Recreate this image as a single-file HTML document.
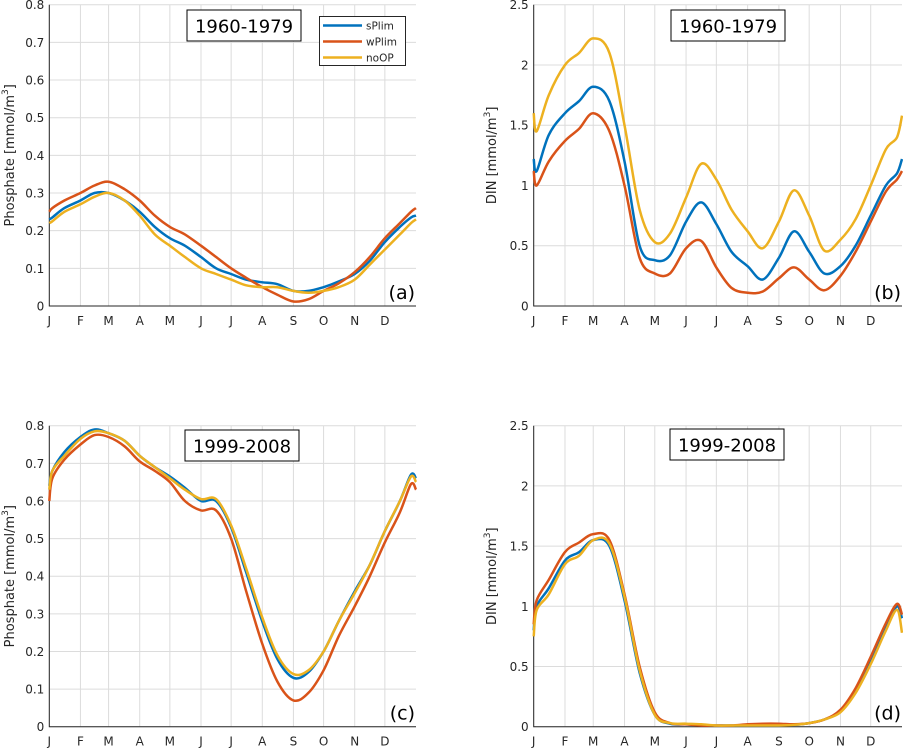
<!DOCTYPE html>
<html><head><meta charset="utf-8"><style>
body{margin:0;background:#fff;}
svg{display:block;font-family:"DejaVu Sans","Liberation Sans",sans-serif;}
</style></head><body>
<svg id="fig" width="903" height="748" viewBox="0 0 903 748" xmlns="http://www.w3.org/2000/svg"></svg>
<script>
const days=[0,3,15,31,45,59,75,90,105,120,135,151,166,181,196,212,227,243,258,273,288,304,319,334,349,360,365];
const monthLabels=["J","F","M","A","M","J","J","A","S","O","N","D"];
const monthDays=[0,31,59,90,120,151,181,212,243,273,304,334];
const seriesNames=["sPlim","wPlim","noOP"];
const aS=[0.23,0.235,0.26,0.28,0.3,0.30,0.28,0.25,0.21,0.18,0.16,0.13,0.10,0.085,0.07,0.063,0.058,0.04,0.04,0.05,0.065,0.085,0.12,0.17,0.21,0.235,0.24];
const aW=[0.25,0.26,0.28,0.30,0.32,0.33,0.31,0.28,0.24,0.21,0.19,0.16,0.13,0.10,0.075,0.05,0.03,0.012,0.018,0.04,0.06,0.09,0.13,0.18,0.22,0.25,0.26];
const aN=[0.22,0.225,0.25,0.27,0.29,0.30,0.28,0.24,0.19,0.16,0.13,0.10,0.085,0.07,0.055,0.05,0.05,0.04,0.035,0.04,0.05,0.07,0.11,0.15,0.19,0.22,0.23];
const bS=[1.22,1.12,1.42,1.6,1.7,1.82,1.7,1.2,0.5,0.38,0.42,0.7,0.86,0.68,0.45,0.33,0.22,0.4,0.62,0.45,0.27,0.33,0.5,0.75,1.0,1.1,1.22];
const bW=[1.12,1.0,1.2,1.37,1.47,1.6,1.45,1.0,0.4,0.27,0.27,0.48,0.54,0.32,0.15,0.11,0.12,0.23,0.32,0.22,0.13,0.25,0.45,0.7,0.95,1.05,1.12];
const bN=[1.6,1.45,1.75,2.0,2.1,2.22,2.1,1.5,0.8,0.53,0.6,0.9,1.18,1.05,0.8,0.62,0.48,0.7,0.96,0.75,0.46,0.55,0.72,1.0,1.3,1.4,1.58];
const cS=[0.64,0.68,0.73,0.77,0.79,0.78,0.76,0.72,0.69,0.665,0.635,0.6,0.6,0.53,0.41,0.28,0.18,0.13,0.145,0.2,0.28,0.36,0.43,0.52,0.6,0.67,0.66];
const cW=[0.6,0.66,0.71,0.75,0.775,0.77,0.745,0.705,0.68,0.65,0.6,0.575,0.575,0.5,0.36,0.22,0.12,0.07,0.09,0.15,0.24,0.32,0.4,0.49,0.57,0.645,0.63];
const cN=[0.63,0.68,0.72,0.765,0.785,0.78,0.76,0.72,0.69,0.66,0.63,0.605,0.605,0.535,0.42,0.29,0.19,0.14,0.15,0.2,0.28,0.355,0.43,0.52,0.6,0.665,0.65];
const dS=[0.8,1.0,1.15,1.38,1.45,1.55,1.5,1.05,0.45,0.1,0.025,0.02,0.015,0.01,0.01,0.01,0.01,0.01,0.015,0.03,0.06,0.13,0.3,0.55,0.83,1.0,0.9];
const dW=[0.85,1.05,1.22,1.45,1.53,1.6,1.55,1.1,0.5,0.12,0.03,0.02,0.01,0.01,0.01,0.02,0.025,0.025,0.02,0.03,0.06,0.14,0.32,0.58,0.86,1.02,0.93];
const dN=[0.75,0.97,1.1,1.35,1.42,1.55,1.52,1.08,0.47,0.1,0.03,0.025,0.02,0.01,0.01,0.01,0.01,0.01,0.015,0.03,0.06,0.12,0.28,0.52,0.8,0.97,0.78];
const phTicks=["0","0.1","0.2","0.3","0.4","0.5","0.6","0.7","0.8"];
const dinTicks=["0","0.5","1","1.5","2","2.5"];
const colors=["#0072BD","#D95319","#EDB120"];
const NS="http://www.w3.org/2000/svg";
const svg=document.getElementById('fig');
function mk(tag,attrs,parent,text){const e=document.createElementNS(NS,tag);for(const k in attrs)e.setAttribute(k,attrs[k]);if(text!==undefined)e.textContent=text;(parent||svg).appendChild(e);return e;}
function smooth(pts){
 let d="M"+pts[0][0].toFixed(1)+","+pts[0][1].toFixed(1);
 for(let i=0;i<pts.length-1;i++){
  const p0=pts[Math.max(i-1,0)],p1=pts[i],p2=pts[i+1],p3=pts[Math.min(i+2,pts.length-1)];
  const c1x=p1[0]+(p2[0]-p0[0])/6,c1y=p1[1]+(p2[1]-p0[1])/6;
  const c2x=p2[0]-(p3[0]-p1[0])/6,c2y=p2[1]-(p3[1]-p1[1])/6;
  d+=`C${c1x.toFixed(1)},${c1y.toFixed(1)} ${c2x.toFixed(1)},${c2y.toFixed(1)} ${p2[0].toFixed(1)},${p2[1].toFixed(1)}`;
 }
 return d;
}
const panels=[
 {id:"a",x0:49.3,x1:416,y0:306,y1:4.7,ymax:0.8,ticks:phTicks,ylabel:"Phosphate",data:[aS,aW,aN],title:"1960-1979",tx:187,ty:10,legend:true,lx:14},
 {id:"b",x0:533.7,x1:902,y0:306,y1:4.7,ymax:2.5,ticks:dinTicks,ylabel:"DIN",data:[bS,bW,bN],title:"1960-1979",tx:671,ty:10,lx:496},
 {id:"c",x0:49.3,x1:416,y0:726.7,y1:425.7,ymax:0.8,ticks:phTicks,ylabel:"Phosphate",data:[cS,cW,cN],title:"1999-2008",tx:185,ty:430,lx:14},
 {id:"d",x0:533.7,x1:902,y0:726.7,y1:425.7,ymax:2.5,ticks:dinTicks,ylabel:"DIN",data:[dS,dW,dN],title:"1999-2008",tx:670,ty:429,lx:496}
];
panels.forEach(p=>{
 const g=mk('g',{});
 
 
 const xs=d=>p.x0+d/365*(p.x1-p.x0);
 const ys=v=>p.y0-v/p.ymax*(p.y0-p.y1);
 p.ticks.forEach(t=>{const y=ys(parseFloat(t));
  const l=mk('line',{x1:p.x0,x2:p.x1,y1:y,y2:y,stroke:"#dcdcdc","stroke-width":1},g);
  
  
  const tx=mk('text',{x:p.x0-5,y:y+4.5,"text-anchor":"end","font-size":12,fill:"#262626"},g,t);
  
  
 });
 monthDays.forEach((d,i)=>{const x=xs(d);
  const l=mk('line',{x1:x,x2:x,y1:p.y0,y2:p.y1,stroke:"#dcdcdc","stroke-width":1},g);
  
  
  const tx=mk('text',{x:x,y:p.y0+19,"text-anchor":"middle","font-size":12,fill:"#262626"},g,monthLabels[i]);
  
  
 });
 const ax=mk('path',{d:`M${p.x0},${p.y1}V${p.y0}H${p.x1}`,fill:"none",stroke:"#262626","stroke-width":1},g);
 
 
 p.data.forEach((arr,si)=>{
  const pts=arr.map((v,i)=>[xs(days[i]),ys(v)]);
  const pl=mk('path',{d:smooth(pts),fill:"none",stroke:colors[si],"stroke-width":2.5,"stroke-linejoin":"round"},g);
  
  
 });
 const yc=(p.y0+p.y1)/2, lx=p.lx;
 const yl=mk('text',{x:lx,y:yc,transform:`rotate(-90 ${lx} ${yc})`,"text-anchor":"middle","font-size":13,fill:"#262626"},g);
 
 
 yl.appendChild(document.createTextNode(p.ylabel+" [mmol/m"));
 mk('tspan',{"font-size":9,dy:-6},yl,"3");
 mk('tspan',{dy:6},yl,"]");
 const tb=mk('rect',{x:p.tx,y:p.ty,width:114,height:31,fill:"#fff",stroke:"#000","stroke-width":1},g);
 
 
 const tt=mk('text',{x:p.tx+57,y:p.ty+22.5,"text-anchor":"middle","font-size":18,fill:"#000"},g,p.title);
 
 
 const pt=mk('text',{x:p.x1-1,y:p.y0-7,"text-anchor":"end","font-size":19,fill:"#000"},g,"("+p.id+")");
 
 
 if(p.legend){
  const lg=mk('g',{},g);
  
  
  mk('rect',{x:319.5,y:16.5,width:86,height:49,fill:"#fff",stroke:"#262626","stroke-width":1},lg);
  seriesNames.forEach((n,i)=>{
   const y=25.5+i*16;
   const e=mk('g',{},lg);
   
   
   mk('line',{x1:323,x2:362,y1:y,y2:y,stroke:colors[i],"stroke-width":2.5},e);
   mk('text',{x:366,y:y+4,"font-size":10.5,fill:"#262626"},e,n);
  });
 }
});
</script>
</body></html>
